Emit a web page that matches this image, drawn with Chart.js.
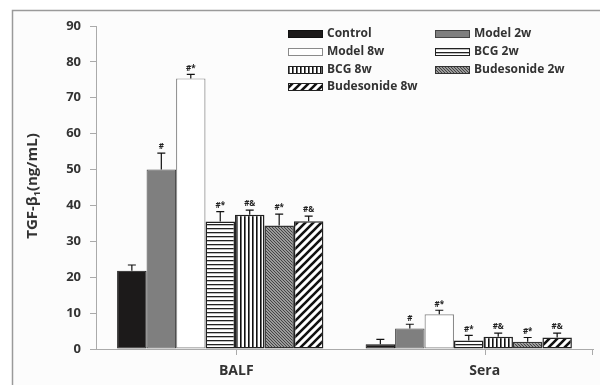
<!DOCTYPE html>
<html>
<head>
<meta charset="utf-8">
<script src="https://cdn.jsdelivr.net/npm/chart.js@4/dist/chart.umd.min.js"></script>
<style>
  html, body { margin: 0; padding: 0; background: #fff; }
  #wrap { position: relative; width: 600px; height: 385px; }
</style>
</head>
<body>
<div id="wrap"><canvas id="chart" width="600" height="385"></canvas></div>
<script>
// dados
const categorias = ["BALF", "Sera"];
const grupos = ["Control", "Model 2w", "Model 8w", "BCG 2w", "BCG 8w", "Budesonide 2w", "Budesonide 8w"];

// média por grupo: [BALF, Sera]
const control = [21.8, 1.3];
const model2w = [50.0, 5.7];
const model8w = [75.4, 9.7];
const bcg2w = [35.5, 2.4];
const bcg8w = [37.4, 3.4];
const bud2w = [34.4, 2.0];
const bud8w = [35.6, 3.2];

// desvio (só para cima)
const erroControl = [1.6, 1.4];
const erroModel2w = [4.6, 1.2];
const erroModel8w = [1.1, 1.1];
const erroBcg2w = [2.8, 1.4];
const erroBcg8w = [1.3, 1.0];
const erroBud2w = [3.2, 1.2];
const erroBud8w = [1.4, 1.2];

// marcas de significância
const marcas = ["", "#", "#*", "#*", "#&", "#*", "#&"];

const yTicks = [0, 10, 20, 30, 40, 50, 60, 70, 80, 90];

const fonte = "'Open Sans', 'Liberation Sans', sans-serif";

// padrões de preenchimento
function makePattern(w, h, draw) {
  const c = document.createElement("canvas");
  c.width = w;
  c.height = h;
  const g = c.getContext("2d");
  g.fillStyle = "#fff";
  g.fillRect(0, 0, w, h);
  draw(g);
  return g.createPattern(c, "repeat");
}

const ctxMain = document.getElementById("chart").getContext("2d");

const padHoriz = makePattern(4, 4, g => {
  g.fillStyle = "#222";
  g.fillRect(0, 0, 4, 1.3);
});
const padVert = makePattern(4, 4, g => {
  g.fillStyle = "#111";
  g.fillRect(0, 0, 1.6, 4);
});
const padFino = makePattern(3, 3, g => {
  g.fillStyle = "#9a9a9a";
  g.fillRect(0, 0, 3, 3);
  g.fillStyle = "#444";
  g.fillRect(0, 0, 1, 1);
  g.fillRect(1, 1, 1, 1);
  g.fillRect(2, 2, 1, 1);
});
const padLargo = makePattern(8, 8, g => {
  g.strokeStyle = "#111";
  g.lineWidth = 2.6;
  g.beginPath();
  g.moveTo(0, 8); g.lineTo(8, 0);
  g.moveTo(-4, 4); g.lineTo(4, -4);
  g.moveTo(4, 12); g.lineTo(12, 4);
  g.stroke();
});

const valores = [control, model2w, model8w, bcg2w, bcg8w, bud2w, bud8w];
const erros = [erroControl, erroModel2w, erroModel8w, erroBcg2w, erroBcg8w, erroBud2w, erroBud8w];
const fundos = ["#1c1a1a", "#7f7f7f", "#ffffff", padHoriz, padVert, padFino, padLargo];
const bordas = ["#111", "#444", "#8a8a8a", "#222", "#222", "#333", "#222"];
const larguras = [1, 1, 1.2, 1.5, 1.5, 1.5, 1.5];

const datasets = grupos.map((nome, i) => ({
  label: nome,
  data: valores[i],
  erro: erros[i],
  backgroundColor: fundos[i],
  borderColor: bordas[i],
  borderWidth: larguras[i],
  borderSkipped: false,
  categoryPercentage: 0.83,
  barPercentage: 1.0
}));

const deslocLabel = 16;

// moldura e fundo
const molduraPlugin = {
  id: "moldura",
  beforeDraw(chart) {
    const g = chart.ctx;
    g.save();
    g.fillStyle = "#fcfcfc";
    g.fillRect(12, 10, 600, 385);
    g.strokeStyle = "#9a9a9a";
    g.lineWidth = 1.5;
    g.beginPath();
    g.moveTo(12.5, 385);
    g.lineTo(12.5, 10.5);
    g.lineTo(600, 10.5);
    g.stroke();
    g.restore();
  }
};

// barras de erro, marcas, ticks do eixo x, título y e legenda
const extrasPlugin = {
  id: "extras",
  afterDatasetsDraw(chart) {
    const g = chart.ctx;
    const y = chart.scales.y;
    const x = chart.scales.x;
    g.save();
    chart.data.datasets.forEach((ds, i) => {
      const meta = chart.getDatasetMeta(i);
      meta.data.forEach((bar, j) => {
        const topo = y.getPixelForValue(ds.data[j] + ds.erro[j]);
        g.strokeStyle = "#111";
        g.lineWidth = 1.2;
        g.beginPath();
        g.moveTo(bar.x, bar.y);
        g.lineTo(bar.x, topo);
        g.moveTo(bar.x - 4, topo);
        g.lineTo(bar.x + 4, topo);
        g.stroke();
        if (marcas[i]) {
          g.fillStyle = "#222";
          g.font = "bold 8px " + fonte;
          g.textAlign = "center";
          g.textBaseline = "bottom";
          g.fillText(marcas[i], bar.x, topo - 2);
        }
      });
    });

    // ticks do eixo x
    g.strokeStyle = "#aaa";
    g.lineWidth = 1;
    g.beginPath();
    categorias.forEach((c, i) => {
      const px = Math.round(x.getPixelForValue(i) + deslocLabel) + 0.5;
      g.moveTo(px, x.top);
      g.lineTo(px, x.top + 6);
    });
    g.moveTo(x.right - 0.5, x.top);
    g.lineTo(x.right - 0.5, x.top + 6);
    g.stroke();

    // título do eixo y com subscrito
    g.translate(33, 186);
    g.rotate(-Math.PI / 2);
    g.fillStyle = "#333";
    g.textBaseline = "middle";
    g.textAlign = "left";
    const f1 = "bold 15px " + fonte;
    const f2 = "bold 9px " + fonte;
    g.font = f1;
    const a = "TGF-\u03b2", b = "(ng/mL)";
    const wa = g.measureText(a).width;
    const wb = g.measureText(b).width;
    g.font = f2;
    const ws = g.measureText("1").width;
    const total = wa + ws + wb;
    let cx = -total / 2;
    g.font = f1;
    g.fillText(a, cx, 0);
    cx += wa;
    g.font = f2;
    g.fillText("1", cx, 4);
    cx += ws;
    g.font = f1;
    g.fillText(b, cx, 0);
    g.setTransform(1, 0, 0, 1, 0, 0);

    // legenda em duas colunas
    const colX = [288, 435];
    const linhaY = 34;
    const passo = 17.8;
    g.font = "bold 12px " + fonte;
    g.textBaseline = "middle";
    g.textAlign = "left";
    chart.data.datasets.forEach((ds, i) => {
      const lx = colX[i % 2];
      const ly = Math.round(linhaY + Math.floor(i / 2) * passo);
      g.fillStyle = ds.backgroundColor;
      g.fillRect(lx, ly - 3.5, 35, 7);
      g.strokeStyle = ds.borderColor;
      g.lineWidth = 1;
      g.strokeRect(lx + 0.5, ly - 3.5, 34, 7);
      g.fillStyle = "#333";
      g.fillText(ds.label, lx + 39, ly);
    });
    g.restore();
  }
};

new Chart(ctxMain, {
  type: "bar",
  data: { labels: categorias, datasets: datasets },
  options: {
    responsive: false,
    animation: false,
    layout: { padding: { left: 0, right: 7, top: 26, bottom: 0 } },
    plugins: {
      legend: { display: false },
      tooltip: { enabled: false }
    },
    scales: {
      x: {
        afterFit: s => { s.height = 36; },
        grid: { display: false },
        border: { display: true, color: "#aaa", width: 1 },
        ticks: {
          color: "#333",
          font: { family: fonte, size: 14, weight: "bold" },
          padding: 6,
          labelOffset: deslocLabel
        }
      },
      y: {
        min: 0,
        max: 90,
        afterFit: s => { s.width = 96; },
        afterBuildTicks: s => { s.ticks = yTicks.map(v => ({ value: v })); },
        grid: { drawOnChartArea: false, tickLength: 6, color: "#aaa" },
        border: { display: true, color: "#aaa", width: 1 },
        ticks: {
          color: "#333",
          font: { family: fonte, size: 13, weight: "bold" },
          padding: 9
        }
      }
    }
  },
  plugins: [molduraPlugin, extrasPlugin]
});
</script>
</body>
</html>
